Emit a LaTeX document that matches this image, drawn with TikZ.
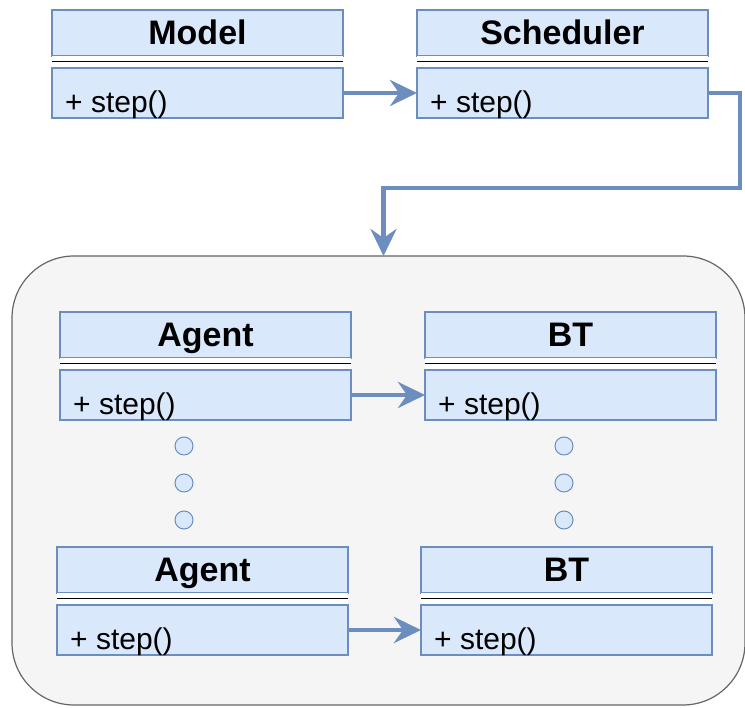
\documentclass[tikz,border=0pt]{standalone}
\usepackage{fontspec}
\setmainfont{Liberation Sans}
\usepackage{xcolor}
\usepackage{tikz}
\usetikzlibrary{arrows.meta, positioning, calc}

\definecolor{umlfill}{HTML}{DAE8FC}
\definecolor{umlline}{HTML}{6C8EBF}
\definecolor{worldfill}{HTML}{F5F5F5}
\definecolor{worldline}{HTML}{666666}

\begin{document}
\begin{tikzpicture}[
    x=1pt, y=1pt,
    clshead/.style={draw=umlline, fill=umlfill, line width=1.2pt, outer sep=0pt, minimum width=291pt, minimum height=46pt,
        text height=24pt, text depth=0pt, font=\fontsize{34}{38}\selectfont\bfseries},
    clsgap/.style={fill=white, outer sep=0pt, inner sep=0pt, minimum width=291pt, minimum height=12pt},
    clsbody/.style={draw=umlline, fill=umlfill, line width=1.2pt, outer sep=0pt, minimum width=291pt, minimum height=50pt},
    clsop/.style={inner sep=0pt, font=\fontsize{30}{33}\selectfont},
    divider/.style={black, line width=1pt},
    world/.style={draw=worldline, fill=worldfill, line width=1.2pt, rounded corners=62pt, outer sep=0pt},
    dot/.style={circle, draw=umlline, fill=umlfill, line width=1pt, minimum size=18pt, inner sep=0pt},
    flow/.style={-{Stealth[length=27pt, width=26pt, inset=9pt]}, umlline, line width=4.5pt}
]
\useasboundingbox (0,0) rectangle (745,708);

% container for the agents and their trees
\node[world, anchor=north west, minimum width=733pt, minimum height=449pt] (world) at (12,452) {};

% class boxes: head, double divider, operation
\foreach \id/\px/\py/\title in {model/52/10/Model, sched/417/10/Scheduler,
        agentA/60/312/Agent, btA/425/312/BT, agentB/57/547/Agent, btB/421/547/BT} {
    \node[clshead, anchor=north west] (\id) at (\px,708-\py) {\title};
    \node[clsgap, below=0pt of \id] (\id-gap) {};
    \node[clsbody, below=0pt of \id-gap] (\id-body) {};
    \draw[divider] (\id-gap.west) -- (\id-gap.east);
    \node[clsop, anchor=base west] (\id-op) at ([shift={(13,5)}]\id-body.south west) {+ step()};
}

% ellipsis between the two rows
\foreach \cx in {184,564}
    \foreach \k/\cy in {1/446,2/483,3/520}
        \node[dot] (dot-\cx-\k) at (\cx,708-\cy) {};

\coordinate (bend) at (740,520);
\coordinate (drop) at ([xshift=5pt]world.north);

\draw[flow] (model-body.east) -- (sched-body.west);
\draw[flow] (sched-body.east) -| (bend) -| (drop);
\draw[flow] (agentA-body.east) -- (btA-body.west);
\draw[flow] (agentB-body.east) -- (btB-body.west);

\end{tikzpicture}
\end{document}
